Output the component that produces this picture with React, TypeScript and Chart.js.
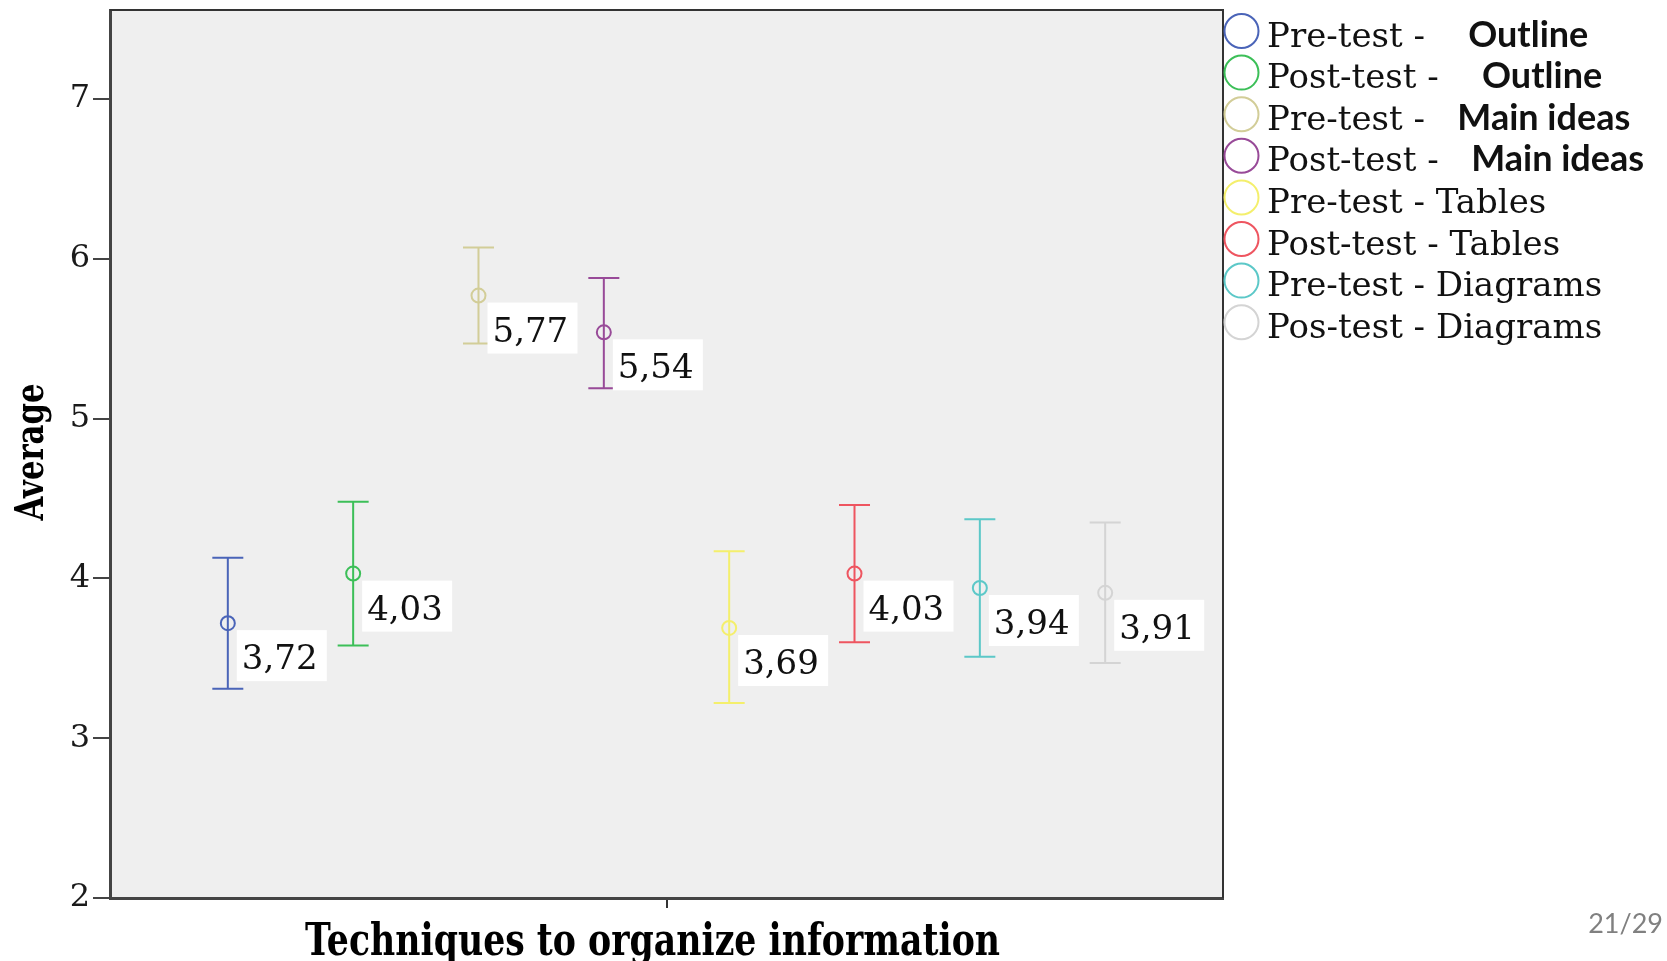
import React, { useEffect, useRef } from "react";
import { Chart, registerables } from "chart.js";

Chart.register(...registerables);

// Group means with their confidence interval bounds
const legendPrefixes = [
  "Pre-test -    ",
  "Post-test -    ",
  "Pre-test -   ",
  "Post-test -   ",
  "Pre-test - ",
  "Post-test - ",
  "Pre-test - ",
  "Pos-test - ",
];
const legendTopics = ["Outline", "Outline", "Main ideas", "Main ideas", "Tables", "Tables", "Diagrams", "Diagrams"];
const topicBold = [true, true, true, true, false, false, false, false];
const means = [3.72, 4.03, 5.77, 5.54, 3.69, 4.03, 3.94, 3.91];
const upper = [4.13, 4.48, 6.07, 5.88, 4.17, 4.46, 4.37, 4.35];
const lower = [3.31, 3.58, 5.47, 5.19, 3.22, 3.6, 3.51, 3.47];
const yTicks = [2, 3, 4, 5, 6, 7];
const xTitle = "Techniques to organize information";
const yTitle = "Average";
const pageNote = "21/29";

const colors = ["#4a64b8", "#3cbf58", "#d2cd98", "#984a98", "#f4ef6c", "#ee5560", "#5cc8c8", "#d4d4d4"];

const SERIF = "'DejaVu Serif', serif";

const fmt = (v: number) => v.toFixed(2).replace(".", ",");

const decorPlugin = {
  id: "decor",
  beforeDraw(chart: any) {
    const { ctx, chartArea: a } = chart;
    ctx.save();
    ctx.fillStyle = "#efefef";
    ctx.fillRect(a.left, a.top, a.right - a.left, a.bottom - a.top);
    ctx.restore();
  },
  beforeDatasetsDraw(chart: any) {
    const { ctx } = chart;
    const xs = chart.scales.x;
    const ys = chart.scales.y;
    ctx.save();
    ctx.lineWidth = 2;
    means.forEach((_, i) => {
      const x = xs.getPixelForValue(i + 1);
      const yt = ys.getPixelForValue(upper[i]);
      const yb = ys.getPixelForValue(lower[i]);
      ctx.strokeStyle = colors[i];
      ctx.beginPath();
      ctx.moveTo(x, yt);
      ctx.lineTo(x, yb);
      ctx.moveTo(x - 15.5, yt);
      ctx.lineTo(x + 15.5, yt);
      ctx.moveTo(x - 15.5, yb);
      ctx.lineTo(x + 15.5, yb);
      ctx.stroke();
    });
    ctx.restore();
  },
  afterDatasetsDraw(chart: any) {
    const { ctx } = chart;
    const xs = chart.scales.x;
    const ys = chart.scales.y;
    ctx.save();
    ctx.font = `34px ${SERIF}`;
    ctx.textBaseline = "alphabetic";
    ctx.textAlign = "left";
    means.forEach((m, i) => {
      const x = xs.getPixelForValue(i + 1);
      const y = ys.getPixelForValue(m);
      const bx = x + 9;
      const by = y + 7;
      ctx.fillStyle = "#ffffff";
      ctx.fillRect(bx, by, 90, 51);
      ctx.fillStyle = "#111111";
      ctx.fillText(fmt(m), bx + 5, by + 39);
    });
    ctx.restore();
  },
  afterDraw(chart: any) {
    const { ctx, chartArea: a } = chart;
    ctx.save();
    // top and right frame of the plot area
    ctx.strokeStyle = "#333333";
    ctx.lineWidth = 2;
    ctx.beginPath();
    ctx.moveTo(a.left, a.top);
    ctx.lineTo(a.right, a.top);
    ctx.lineTo(a.right, a.bottom);
    ctx.stroke();

    // legend
    const x0 = a.right + 18.5;
    means.forEach((_, i) => {
      const cy = 31 + i * 41.6;
      ctx.strokeStyle = colors[i];
      ctx.lineWidth = 2;
      ctx.beginPath();
      ctx.arc(x0, cy, 17, 0, Math.PI * 2);
      ctx.stroke();
      ctx.fillStyle = "#111111";
      ctx.textAlign = "left";
      ctx.textBaseline = "alphabetic";
      ctx.font = `34px ${SERIF}`;
      const tx = x0 + 25.5;
      const by = cy + 15.5;
      ctx.fillText(legendPrefixes[i], tx, by);
      const w = ctx.measureText(legendPrefixes[i]).width;
      ctx.font = topicBold[i] ? "bold 36px Lato, sans-serif" : `34px ${SERIF}`;
      ctx.fillText(legendTopics[i], tx + w, by);
    });

    // axis titles in a condensed bold serif
    const drawFit = (text: string, cx: number, cy: number, target: number, size: number, rot: number) => {
      ctx.save();
      ctx.font = `bold ${size}px ${SERIF}`;
      const w = ctx.measureText(text).width;
      ctx.translate(cx, cy);
      ctx.rotate(rot);
      ctx.scale(target / w, 1);
      ctx.textAlign = "center";
      ctx.textBaseline = "alphabetic";
      ctx.fillStyle = "#000000";
      ctx.fillText(text, 0, 0);
      ctx.restore();
    };
    drawFit(xTitle, (a.left + a.right) / 2 - 14, 955, 695, 44, 0);
    drawFit(yTitle, 43, (a.top + a.bottom) / 2 - 2, 137, 40, -Math.PI / 2);

    // page number
    ctx.font = "27px Lato, 'Open Sans', sans-serif";
    ctx.fillStyle = "#808080";
    ctx.textAlign = "right";
    ctx.textBaseline = "alphabetic";
    ctx.fillText(pageNote, 1663, 933);
    ctx.restore();
  },
};

export default function App() {
  const ref = useRef<HTMLCanvasElement | null>(null);

  useEffect(() => {
    if (!ref.current) return;
    Chart.defaults.font.family = SERIF;
    const chart = new Chart(ref.current, {
      type: "scatter",
      data: {
        datasets: means.map((m, i) => ({
          label: legendPrefixes[i].trim() + " " + legendTopics[i],
          data: [{ x: i + 1, y: m }],
          pointStyle: "circle",
          pointRadius: 7,
          pointHoverRadius: 7,
          pointBorderWidth: 2,
          borderColor: colors[i],
          backgroundColor: "rgba(0,0,0,0)",
        })),
      },
      options: {
        responsive: false,
        animation: false,
        events: [],
        layout: { padding: { left: 0, top: 10, right: 444, bottom: 0 } },
        plugins: {
          legend: { display: false },
          tooltip: { enabled: false },
          title: { display: false },
        },
        scales: {
          x: {
            type: "linear",
            min: 0.06,
            max: 8.94,
            afterBuildTicks: (s: any) => {
              s.ticks = [{ value: 4.5 }];
            },
            afterFit: (s: any) => {
              s.height = 63;
              s.paddingLeft = 0;
              s.paddingRight = 0;
            },
            ticks: { callback: () => "", padding: 0 },
            grid: { drawOnChartArea: false, drawTicks: true, tickLength: 10, color: "#333333", lineWidth: 2 },
            border: { display: true, color: "#444444", width: 3 },
          },
          y: {
            type: "linear",
            min: 2,
            max: 7.557,
            afterBuildTicks: (s: any) => {
              s.ticks = yTicks.map((v) => ({ value: v }));
            },
            afterFit: (s: any) => {
              s.width = 110;
              s.paddingTop = 0;
              s.paddingBottom = 0;
            },
            ticks: {
              font: { family: SERIF, size: 32 },
              color: "#1a1a1a",
              padding: 3,
            },
            grid: { drawOnChartArea: false, drawTicks: true, tickLength: 17, color: "#444444", lineWidth: 2 },
            border: { display: true, color: "#444444", width: 3 },
          },
        },
      },
      plugins: [decorPlugin],
    } as any);
    return () => chart.destroy();
  }, []);

  return (
    <div style={{ position: "absolute", left: 0, top: 0, width: 1667, height: 961, background: "#ffffff" }}>
      <canvas ref={ref} width={1667} height={961} style={{ width: 1667, height: 961, display: "block" }} />
    </div>
  );
}
